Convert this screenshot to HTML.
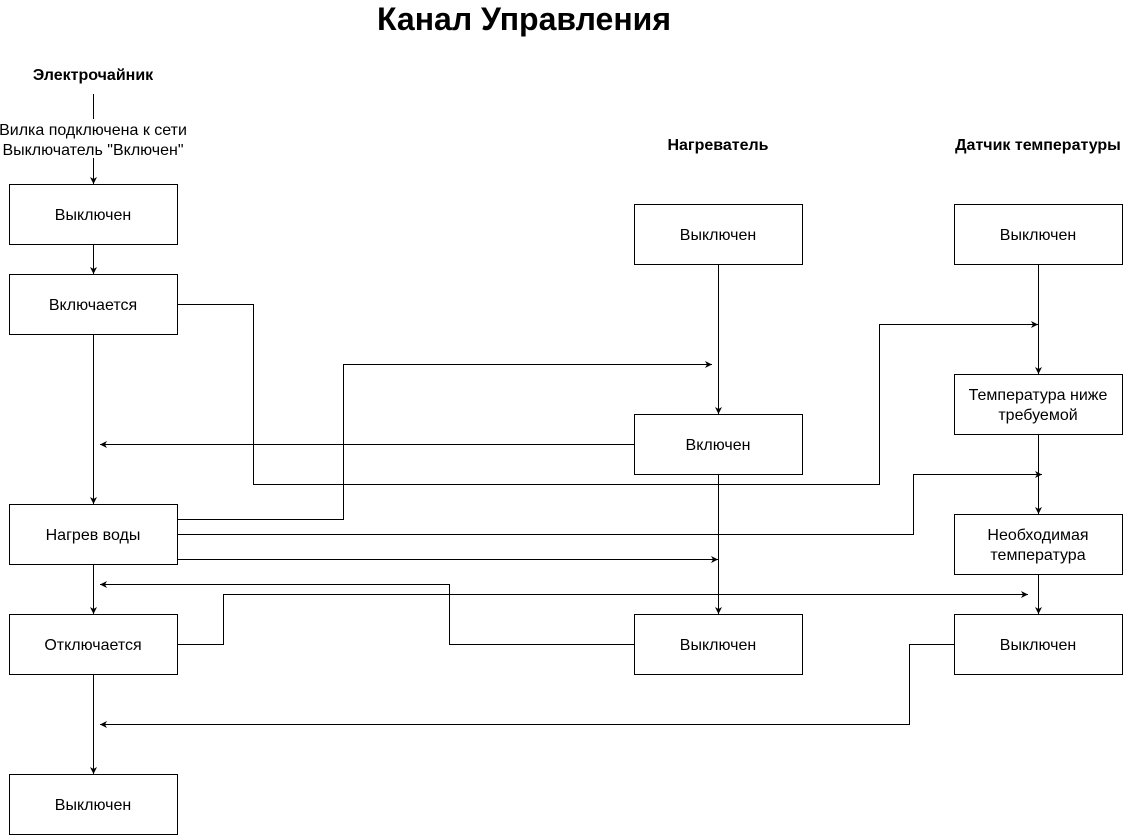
<!DOCTYPE html>
<html><head><meta charset="utf-8"><style>
html,body{margin:0;padding:0;background:#fff}
svg text{font-family:"Liberation Sans",sans-serif;fill:#000}
</style></head><body>
<svg width="1129" height="835" viewBox="0 0 1129 835" xmlns="http://www.w3.org/2000/svg">
<defs><marker id="a" markerWidth="8" markerHeight="8" refX="7" refY="4" orient="auto" markerUnits="userSpaceOnUse"><path d="M0,0.5 L7,4 L0,7.5 L2,4 Z" fill="#000"/></marker></defs>
<text x="524" y="30" font-size="32" font-weight="bold" text-anchor="middle">Канал Управления</text>
<g font-size="16" font-weight="bold" text-anchor="middle">
<text x="93" y="80">Электрочайник</text>
<text x="718" y="150">Нагреватель</text>
<text x="1038" y="150">Датчик температуры</text>
</g>
<g font-size="16" text-anchor="middle">
<text x="93" y="135">Вилка подключена к сети</text>
<text x="93" y="155">Выключатель "Включен"</text>
</g>
<g fill="#fff" stroke="#000" stroke-width="1">
<rect x="9.5" y="184.5" width="168" height="60"/>
<rect x="9.5" y="274.5" width="168" height="60"/>
<rect x="9.5" y="504.5" width="168" height="60"/>
<rect x="9.5" y="614.5" width="168" height="60"/>
<rect x="9.5" y="774.5" width="168" height="60"/>
<rect x="634.5" y="204.5" width="168" height="60"/>
<rect x="634.5" y="414.5" width="168" height="60"/>
<rect x="634.5" y="614.5" width="168" height="60"/>
<rect x="954.5" y="204.5" width="168" height="60"/>
<rect x="954.5" y="374.5" width="168" height="60"/>
<rect x="954.5" y="514.5" width="168" height="60"/>
<rect x="954.5" y="614.5" width="168" height="60"/>
</g>
<g font-size="16" text-anchor="middle">
<text x="93" y="220">Выключен</text>
<text x="93" y="310">Включается</text>
<text x="93" y="540">Нагрев воды</text>
<text x="93" y="650">Отключается</text>
<text x="93" y="810">Выключен</text>
<text x="718" y="240">Выключен</text>
<text x="718" y="450">Включен</text>
<text x="718" y="650">Выключен</text>
<text x="1038" y="240">Выключен</text>
<text x="1038" y="400">Температура ниже</text>
<text x="1038" y="420">требуемой</text>
<text x="1038" y="540">Необходимая</text>
<text x="1038" y="560">температура</text>
<text x="1038" y="650">Выключен</text>
</g>
<g fill="none" stroke="#000" stroke-width="1">
<path d="M93.5,94 V119"/>
<path d="M93.5,158 V184" marker-end="url(#a)"/>
<path d="M93.5,244 V274" marker-end="url(#a)"/>
<path d="M93.5,334 V504" marker-end="url(#a)"/>
<path d="M93.5,564 V614" marker-end="url(#a)"/>
<path d="M93.5,674 V774" marker-end="url(#a)"/>
<path d="M177,304.5 H253.5 V484.5 H879.5 V324.5 H1038" marker-end="url(#a)"/>
<path d="M718.5,264 V414" marker-end="url(#a)"/>
<path d="M718.5,474 V614" marker-end="url(#a)"/>
<path d="M634,444.5 H100" marker-end="url(#a)"/>
<path d="M177,519.5 H343.5 V364.5 H712" marker-end="url(#a)"/>
<path d="M177,534.5 H913.5 V474.5 H1042" marker-end="url(#a)"/>
<path d="M177,559.5 H718" marker-end="url(#a)"/>
<path d="M1038.5,264 V374" marker-end="url(#a)"/>
<path d="M1038.5,434 V514" marker-end="url(#a)"/>
<path d="M1038.5,574 V614" marker-end="url(#a)"/>
<path d="M634,644.5 H449.5 V584.5 H100" marker-end="url(#a)"/>
<path d="M177,644.5 H223.5 V594.5 H1028" marker-end="url(#a)"/>
<path d="M954,644.5 H909.5 V724.5 H100" marker-end="url(#a)"/>
</g>
</svg>
</body></html>
